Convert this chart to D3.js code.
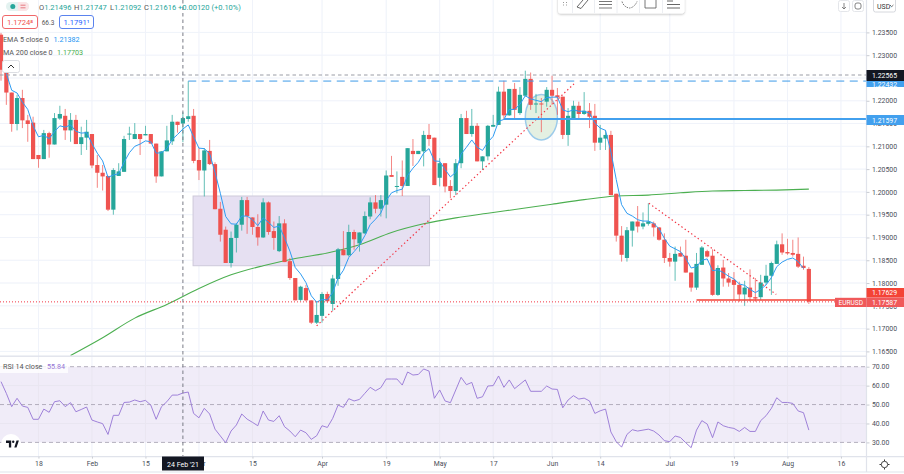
<!DOCTYPE html>
<html lang="en">
<head>
<meta charset="UTF-8">
<title>EURUSD</title>
<style>
  html, body { margin: 0; padding: 0; background: #fff; }
  svg { display: block; }
  text { font-family: Roboto, "Open Sans", sans-serif; }
</style>
</head>
<body>
<svg id="chart"></svg>
<script src="https://cdn.jsdelivr.net/npm/d3@7"></script>
<script>
// daily EURUSD bars. index 0 = 7 Jan 2021, 151 = 6 Aug 2021
var opens = [
  1.2345,1.2264,1.2218,1.2149,1.2206,1.2157,1.2152,1.2081,1.2072,1.2129,
  1.2104,1.2161,1.2167,1.2135,1.2158,1.2105,1.2119,1.2127,1.2059,1.2042,
  1.2035,1.1961,1.2035,1.2044,1.2126,1.2116,1.2127,1.2124,1.2127,1.2106,
  1.2034,1.2089,1.2111,1.2154,1.2150,1.2160,1.2167,1.2070,1.2047,1.2090,
  1.2061,1.1963,1.1917,1.1844,1.1899,1.1928,1.1982,1.1944,1.1923,1.1900,
  1.1977,1.1914,1.1870,1.1931,1.1848,1.1811,1.1763,1.1789,1.1762,1.1713,
  1.1728,1.1776,1.1754,1.1809,1.1873,1.1861,1.1912,1.1887,1.1909,1.1946,
  1.1977,1.1963,1.1972,1.2037,1.2011,1.2033,1.2013,1.2090,1.2083,1.2089,
  1.2125,1.2119,1.2031,1.2063,1.2013,1.2002,1.2063,1.2162,1.2127,1.2145,
  1.2067,1.2078,1.2143,1.2147,1.2220,1.2168,1.2226,1.2173,1.2211,1.2248,
  1.2193,1.2194,1.2198,1.2224,1.2212,1.2209,1.2125,1.2160,1.2189,1.2171,
  1.2178,1.2167,1.2108,1.2117,1.2125,1.1996,1.1904,1.1855,1.1915,1.1935,
  1.1924,1.1930,1.1931,1.1922,1.1895,1.1855,1.1847,1.1866,1.1860,1.1823,
  1.1790,1.1840,1.1870,1.1860,1.1774,1.1834,1.1810,1.1807,1.1796,1.1775,
  1.1790,1.1769,1.1769,1.1801,1.1816,1.1842,1.1885,1.1868,1.1866,1.1864,
  1.1838,1.1831
]
var highs = [
  1.2349,1.2279,1.2218,1.2213,1.2224,1.2169,1.2165,1.2081,1.2136,1.2132,
  1.2173,1.2189,1.2182,1.2173,1.2169,1.2143,1.2158,1.2127,1.2081,1.2059,
  1.2035,1.2052,1.2063,1.2123,1.2143,1.2151,1.2127,1.2145,1.2127,1.2106,
  1.2089,1.2145,1.2169,1.2154,1.2175,1.2243,1.2182,1.2096,1.2096,1.2114,
  1.2065,1.1978,1.1924,1.1913,1.1932,1.1989,1.1989,1.1944,1.1951,1.1986,
  1.1979,1.1935,1.1947,1.1940,1.1855,1.1811,1.1794,1.1796,1.1762,1.1760,
  1.1780,1.1781,1.1818,1.1877,1.1914,1.1928,1.1917,1.1911,1.1957,1.1988,
  1.1993,1.1993,1.2047,1.2079,1.2045,1.2069,1.2096,1.2116,1.2090,1.2134,
  1.2149,1.2119,1.2074,1.2063,1.2026,1.2072,1.2171,1.2178,1.2182,1.2151,
  1.2078,1.2147,1.2169,1.2231,1.2244,1.2226,1.2239,1.2230,1.2266,1.2262,
  1.2215,1.2206,1.2230,1.2255,1.2228,1.2209,1.2184,1.2200,1.2198,1.2219,
  1.2195,1.2193,1.2147,1.2136,1.2134,1.1996,1.1925,1.1923,1.1935,1.1969,
  1.1955,1.1975,1.1935,1.1923,1.1909,1.1866,1.1880,1.1880,1.1895,1.1823,
  1.1866,1.1881,1.1873,1.1874,1.1839,1.1851,1.1822,1.1824,1.1803,1.1805,
  1.1830,1.1811,1.1818,1.1840,1.1847,1.1893,1.1909,1.1897,1.1895,1.1900,
  1.1858,1.1835
]
var lows = [
  1.2244,1.2191,1.2132,1.2135,1.2140,1.2110,1.2072,1.2053,1.2072,1.2075,
  1.2104,1.2158,1.2114,1.2110,1.2105,1.2081,1.2092,1.2052,1.2009,1.2003,
  1.1958,1.1950,1.2035,1.2044,1.2114,1.2116,1.2081,1.2124,1.2106,1.2020,
  1.2034,1.2089,1.2103,1.2130,1.2109,1.2154,1.2063,1.2026,1.1990,1.2059,
  1.1962,1.1891,1.1844,1.1834,1.1867,1.1915,1.1908,1.1906,1.1882,1.1899,
  1.1906,1.1873,1.1868,1.1846,1.1807,1.1762,1.1760,1.1760,1.1710,1.1710,
  1.1713,1.1756,1.1739,1.1794,1.1861,1.1858,1.1873,1.1869,1.1908,1.1940,
  1.1953,1.1946,1.1942,1.2033,1.1997,1.1991,1.2013,1.2057,1.2083,1.2056,
  1.2101,1.2015,1.2012,1.1999,1.1986,1.1993,1.2052,1.2127,1.2121,1.2067,
  1.2048,1.2069,1.2143,1.2147,1.2160,1.2167,1.2160,1.2169,1.2209,1.2180,
  1.2173,1.2131,1.2187,1.2191,1.2169,1.2116,1.2101,1.2160,1.2162,1.2169,
  1.2140,1.2090,1.2092,1.2092,1.1993,1.1891,1.1847,1.1847,1.1880,1.1911,
  1.1918,1.1926,1.1902,1.1893,1.1844,1.1836,1.1805,1.1858,1.1823,1.1781,
  1.1785,1.1840,1.1856,1.1772,1.1772,1.1792,1.1792,1.1763,1.1759,1.1750,
  1.1759,1.1759,1.1763,1.1796,1.1774,1.1842,1.1862,1.1862,1.1858,1.1833,
  1.1829,1.1754
]
var closes = [
  1.2268,1.2218,1.2149,1.2206,1.2157,1.2149,1.2072,1.2072,1.2129,1.2104,
  1.2162,1.2171,1.2135,1.2158,1.2105,1.2120,1.2132,1.2058,1.2042,1.2034,
  1.1961,1.2048,1.2045,1.2116,1.2128,1.2127,1.2116,1.2127,1.2106,1.2034,
  1.2089,1.2113,1.2154,1.2147,1.2162,1.2166,1.2068,1.2047,1.2091,1.2061,
  1.1962,1.1906,1.1844,1.1899,1.1928,1.1982,1.1947,1.1923,1.1900,1.1977,
  1.1912,1.1899,1.1931,1.1846,1.1811,1.1762,1.1792,1.1762,1.1713,1.1730,
  1.1776,1.1760,1.1810,1.1874,1.1861,1.1912,1.1896,1.1911,1.1947,1.1977,
  1.1963,1.1982,1.2036,1.2033,1.2013,1.2013,1.2096,1.2083,1.2090,1.2125,
  1.2116,1.2015,1.2063,1.2012,1.2002,1.2063,1.2162,1.2127,1.2145,1.2067,
  1.2078,1.2145,1.2147,1.2220,1.2168,1.2226,1.2180,1.2213,1.2248,1.2191,
  1.2194,1.2193,1.2224,1.2211,1.2208,1.2125,1.2167,1.2189,1.2171,1.2178,
  1.2165,1.2108,1.2119,1.2125,1.1993,1.1904,1.1862,1.1916,1.1935,1.1924,
  1.1931,1.1935,1.1922,1.1895,1.1855,1.1847,1.1864,1.1858,1.1823,1.1790,
  1.1842,1.1878,1.1858,1.1774,1.1833,1.1810,1.1801,1.1796,1.1775,1.1790,
  1.1769,1.1766,1.1801,1.1816,1.1844,1.1885,1.1867,1.1865,1.1862,1.1836,
  1.1833,1.1759
]
// EMA 5 line, starts at bar 1, last reading at bar 150
var emaValues = [
  1.2260,1.2223,1.2217,1.2197,1.2181,1.2145,1.2121,1.2124,1.2117,1.2132,
  1.2145,1.2142,1.2147,1.2133,1.2129,1.2130,1.2106,1.2085,1.2068,1.2032,
  1.2037,1.2040,1.2065,1.2086,1.2100,1.2105,1.2112,1.2110,1.2085,1.2086,
  1.2095,1.2115,1.2126,1.2138,1.2147,1.2121,1.2096,1.2095,1.2084,1.2043,
  1.1997,1.1946,1.1930,1.1929,1.1947,1.1947,1.1939,1.1926,1.1943,1.1933,
  1.1922,1.1925,1.1899,1.1870,1.1834,1.1820,1.1801,1.1772,1.1758,1.1764,
  1.1763,1.1779,1.1811,1.1828,1.1856,1.1869,1.1883,1.1904,1.1928,1.1940,
  1.1954,1.1981,1.1998,1.2003,1.2006,1.2036,1.2052,1.2065,1.2085,1.2095,
  1.2068,1.2067,1.2049,1.2033,1.2043,1.2083,1.2098,1.2114,1.2098,1.2091,
  1.2109,1.2122,1.2155,1.2159,1.2181,1.2181,1.2192,1.2211,1.2204,1.2201,
  1.2198,1.2207,1.2208,1.2208,1.2180,1.2176,1.2180,1.2177,1.2177,1.2173,
  1.2151,1.2140,1.2135,1.2088,1.2027,1.1972,1.1953,1.1947,1.1939,1.1936,
  1.1936,1.1931,1.1919,1.1898,1.1881,1.1875,1.1869,1.1854,1.1833,1.1836,
  1.1850,1.1853,1.1827,1.1829,1.1823,1.1815,1.1809,1.1798,1.1795,1.1786,
  1.1779,1.1786,1.1796,1.1812,1.1836,1.1846,1.1852,1.1855,1.1847,1.1832
]
// MA 200, read every sixth bar
var maBars = [13,19,25,31,37,43,49,55,61,67,73,79,85,91,97,103,109,115,121,127,133,139,145,151]
var maValues = [
  1.1641,1.1680,1.1723,1.1753,1.1788,1.1818,1.1838,1.1854,1.1866,1.1884,1.1911,1.1930,
  1.1943,1.1953,1.1963,1.1973,1.1983,1.1991,1.1993,1.1998,1.2002,1.2003,1.2004,1.2006
]
var rsiValues = [
  62.1,55.9,48.9,53.3,49.2,48.5,42.2,42.2,47.6,45.9,
  51.5,52.0,48.9,51.0,46.2,47.4,48.7,41.8,40.8,39.9,
  34.2,44.3,44.3,51.1,51.3,52.4,51.5,52.2,49.7,42.2,
  48.9,51.5,55.0,55.0,56.1,56.6,45.3,43.0,48.0,45.0,
  37.0,33.4,29.8,36.0,39.2,45.0,42.3,40.6,38.8,46.6,
  41.8,41.1,44.1,38.3,36.0,33.0,36.5,35.1,31.6,33.5,
  38.8,37.9,42.7,49.7,48.5,53.1,51.9,52.7,55.9,59.1,
  57.3,58.9,63.5,63.5,63.5,60.3,67.2,65.6,65.9,68.8,
  67.7,53.3,57.7,51.9,51.0,57.7,64.4,60.5,61.7,53.3,
  54.1,59.8,60.0,65.1,59.1,63.0,58.4,60.7,63.0,57.0,
  57.0,57.0,59.8,58.2,58.0,48.3,52.4,54.7,52.9,53.4,
  51.9,45.3,46.7,47.6,35.5,30.4,27.5,34.2,36.7,36.0,
  36.5,37.0,36.0,33.9,30.9,30.4,33.4,32.6,29.8,27.2,
  36.5,41.5,39.7,32.5,40.8,38.8,37.9,37.4,35.8,37.9,
  35.8,35.8,41.5,44.1,48.0,53.6,51.1,51.1,50.6,46.6,
  45.7,36.5
]
var priceTicks = [1.165,1.17,1.175,1.18,1.185,1.19,1.195,1.2,1.205,1.21,1.215,1.22,1.225,1.23,1.235]
var rsiTicks = [30,40,50,60,70]
var timeBars = [7,17,27,37,47,60,72,82,92,103,112,125,137,147,157]
var timeLabels = ['18','Feb','15','Mar','15','Apr','19','May','17','Jun','14','Jul','19','Aug','16']
var crossBar = 34
var crossPrice = 1.22565
var lastPrice = 1.17587
var bidPrice = 1.17629
var blueDashed = 1.22432
var blueSolid = 1.21597

var width = 904
var height = 474
var axisX = 866.5
var svg = d3.select('#chart').attr('width', width).attr('height', height)
var candles = d3.range(opens.length).map(i => ({i: i, o: opens[i], h: highs[i], l: lows[i], c: closes[i]}))

var x = d3.scaleLinear().domain([0, 151]).range([1, 808.85])
var y = d3.scaleLinear().domain([1.165, 1.235]).range([351.4, 32.4])
var yRsi = d3.scaleLinear().domain([30, 70]).range([442.4, 366.7])

var gridColor = '#f0f3fa'
var borderColor = '#e0e3eb'
var red = '#ef5350'
var green = '#26a69a'
var blue = '#2196f3'
var purple = '#9575d5'
var fmtPrice = d3.format('.5f')

// grid
var grid = svg.append('g')
grid.selectAll('.vg').data(timeBars).enter().append('line')
  .attr('x1', d => x(d)).attr('x2', d => x(d)).attr('y1', 0).attr('y2', 456.5)
  .attr('stroke', gridColor)
grid.selectAll('.hg').data(priceTicks).enter().append('line')
  .attr('x1', 0).attr('x2', axisX).attr('y1', d => y(d)).attr('y2', d => y(d))
  .attr('stroke', gridColor)

// drawings behind the candles
svg.append('rect')
  .attr('x', x(35.9)).attr('y', y(1.1991))
  .attr('width', x(80.1) - x(35.9)).attr('height', y(1.1838) - y(1.1991))
  .attr('fill', '#e6e0f2').attr('stroke', '#cdc9da').attr('stroke-width', 1)
grid.clone(true).attr('opacity', 0.35)

svg.append('ellipse')
  .attr('cx', x(101)).attr('cy', y(1.2164))
  .attr('rx', x(104) - x(101)).attr('ry', y(1.2164) - y(1.2214))
  .attr('fill', '#e4f0e2').attr('stroke', '#9ccbea').attr('stroke-width', 1.5)

// ma 200
var maLine = d3.line().x((d, i) => x(maBars[i])).y(d => y(d)).curve(d3.curveMonotoneX)
svg.append('path').attr('d', maLine(maValues))
  .attr('fill', 'none').attr('stroke', '#4caf50').attr('stroke-width', 1.1)

// candles
var bars = svg.append('g')
bars.selectAll('.wick').data(candles).enter().append('line')
  .attr('x1', d => x(d.i)).attr('x2', d => x(d.i))
  .attr('y1', d => y(d.h)).attr('y2', d => y(d.l))
  .attr('stroke', d => d.c >= d.o ? green : red).attr('stroke-width', 0.9).attr('opacity', 0.8)
bars.selectAll('.body').data(candles).enter().append('rect')
  .attr('x', d => x(d.i) - 2.1).attr('width', 4.2)
  .attr('y', d => y(Math.max(d.o, d.c)))
  .attr('height', d => Math.max(1, Math.abs(y(d.o) - y(d.c))))
  .attr('fill', d => d.c >= d.o ? green : red)

// ema 5
var emaLine = d3.line().x((d, i) => x(i + 1)).y(d => y(d))
svg.append('path').attr('d', emaLine(emaValues))
  .attr('fill', 'none').attr('stroke', '#2f9cf2').attr('stroke-width', 1)

// trend lines
var trends = [[59, 1.1706, 107.1, 1.2237], [121.1, 1.1975, 144.9, 1.1775]]
svg.selectAll('.trend').data(trends).enter().append('line')
  .attr('x1', d => x(d[0])).attr('y1', d => y(d[1]))
  .attr('x2', d => x(d[2])).attr('y2', d => y(d[3]))
  .attr('stroke', '#f23645').attr('stroke-width', 1.2).attr('stroke-dasharray', '1.4 2.6')

// levels
svg.append('line').attr('x1', 0).attr('x2', axisX).attr('y1', y(lastPrice)).attr('y2', y(lastPrice))
  .attr('stroke', '#f23645').attr('stroke-width', 1).attr('stroke-dasharray', '1 2')
svg.append('line').attr('x1', x(130)).attr('x2', axisX).attr('y1', y(bidPrice)).attr('y2', y(bidPrice))
  .attr('stroke', '#f44336').attr('stroke-width', 1.6)
svg.append('line').attr('x1', x(94)).attr('x2', axisX).attr('y1', y(blueSolid)).attr('y2', y(blueSolid))
  .attr('stroke', '#42a0ee').attr('stroke-width', 2)
svg.append('line').attr('x1', x(35)).attr('x2', axisX).attr('y1', y(blueDashed)).attr('y2', y(blueDashed))
  .attr('stroke', '#3d9be9').attr('stroke-width', 1).attr('stroke-dasharray', '8 5.5')

// rsi pane
svg.append('rect').attr('x', 0).attr('width', axisX)
  .attr('y', yRsi(70)).attr('height', yRsi(30) - yRsi(70))
  .attr('fill', '#f0ecf8')
svg.selectAll('.rg').data([40, 60]).enter().append('line')
  .attr('x1', 0).attr('x2', axisX).attr('y1', d => yRsi(d)).attr('y2', d => yRsi(d))
  .attr('stroke', '#e9e6f1')
svg.selectAll('.rv').data(timeBars).enter().append('line')
  .attr('x1', d => x(d)).attr('x2', d => x(d)).attr('y1', yRsi(70)).attr('y2', yRsi(30))
  .attr('stroke', '#e9e6f1')
svg.selectAll('.rb').data([30, 50, 70]).enter().append('line')
  .attr('x1', 0).attr('x2', axisX).attr('y1', d => yRsi(d)).attr('y2', d => yRsi(d))
  .attr('stroke', '#b3afbd').attr('stroke-dasharray', '4 3')
var rsiLine = d3.line().x((d, i) => x(i)).y(d => yRsi(d))
svg.append('path').attr('d', rsiLine(rsiValues))
  .attr('fill', 'none').attr('stroke', purple).attr('stroke-width', 0.9)

// crosshair
svg.append('line').attr('x1', x(crossBar)).attr('x2', x(crossBar)).attr('y1', 0).attr('y2', 457)
  .attr('stroke', '#787b86').attr('stroke-dasharray', '3.5 3')
svg.append('line').attr('x1', 0).attr('x2', axisX).attr('y1', y(crossPrice)).attr('y2', y(crossPrice))
  .attr('stroke', '#9a9da6').attr('stroke-dasharray', '3.5 3')

// pane borders and axes
svg.append('rect').attr('x', axisX).attr('y', 0).attr('width', width - axisX).attr('height', 472).attr('fill', '#fff')
svg.append('rect').attr('x', 0).attr('y', 457).attr('width', width).attr('height', 15).attr('fill', '#fff')
svg.append('rect').attr('x', 0).attr('y', 355.5).attr('width', axisX).attr('height', 1.4).attr('fill', borderColor)
svg.append('line').attr('x1', 0).attr('x2', width).attr('y1', 456.6).attr('y2', 456.6).attr('stroke', borderColor).attr('stroke-width', 1.2)
svg.append('line').attr('x1', 0).attr('x2', width).attr('y1', 472).attr('y2', 472).attr('stroke', borderColor).attr('stroke-width', 1.2)
svg.append('line').attr('x1', axisX).attr('x2', axisX).attr('y1', 0).attr('y2', 472).attr('stroke', borderColor).attr('stroke-width', 1.2)

// 1.22500 sits fully under the tags, same as in the original
var priceAxis = d3.axisRight(y).tickValues(priceTicks)
  .tickFormat(d => d === 1.225 ? '' : fmtPrice(d)).tickSize(3).tickPadding(2.5)
var gPrice = svg.append('g').attr('transform', `translate(${axisX},0)`).call(priceAxis)
var rsiAxis = d3.axisRight(yRsi).tickValues(rsiTicks).tickFormat(d3.format('.2f')).tickSize(3).tickPadding(2.5)
var gRsi = svg.append('g').attr('transform', `translate(${axisX},0)`).call(rsiAxis)
var timeAxis = d3.axisBottom(x).tickValues(timeBars).tickFormat((d, i) => timeLabels[i]).tickSize(2).tickPadding(3)
var gTime = svg.append('g').attr('transform', 'translate(0,456.6)').call(timeAxis)
;[gPrice, gRsi, gTime].forEach(g => {
  g.select('.domain').remove()
  g.selectAll('line').attr('stroke', '#c9ccd3')
  g.selectAll('text').attr('font-size', 6.9).attr('fill', '#4a4e59')
    .style('font-family', 'Roboto, sans-serif')
})

// price tags
function priceTag(label, top, h, fill) {
  svg.append('rect').attr('x', axisX).attr('y', top).attr('width', width - axisX).attr('height', h).attr('fill', fill)
  svg.append('text').attr('x', 872).attr('y', top + h / 2 + 2.5).attr('font-size', 6.9).attr('fill', '#fff').text(label)
}
priceTag(fmtPrice(blueDashed), 81, 6, '#42a0ee')
priceTag(fmtPrice(crossPrice), 70, 11, '#131722')
priceTag(fmtPrice(blueSolid), 115, 10, '#42a0ee')
priceTag(fmtPrice(bidPrice), 288, 9.5, '#f44336')
priceTag(fmtPrice(lastPrice), 297.5, 9.5, '#f0595a')
svg.append('rect').attr('x', 835).attr('y', 297.8).attr('width', 31.5).attr('height', 9.2).attr('fill', '#f0595a')
svg.append('text').attr('x', 850.7).attr('y', 305).attr('text-anchor', 'middle')
  .attr('font-size', 6.6).attr('fill', '#fff').text('EURUSD')

// date tag on the crosshair
svg.append('rect').attr('x', 162).attr('y', 456.5).attr('width', 42).attr('height', 14).attr('fill', '#131722')
svg.append('text').attr('x', 183).attr('y', 466.5).attr('text-anchor', 'middle')
  .attr('font-size', 7).attr('fill', '#fff').text("24 Feb '21")

// legend, top left
svg.append('rect').attr('x', 6).attr('y', 2).attr('width', 23).attr('height', 9).attr('rx', 4.5).attr('fill', '#e3f2f0')
svg.append('path').attr('d', 'M18 2h6.5a4.5 4.5 0 0 1 0 9H18z').attr('fill', '#fbe4e6')
svg.append('circle').attr('cx', 12.8).attr('cy', 6.5).attr('r', 2.5).attr('fill', green)
svg.append('path').attr('d', 'M20.5 5.2h5M20.5 7.8h5').attr('stroke', '#e57b83').attr('stroke-width', 1)

var ohlcLabels = ['O', 'H', 'L', 'C', '']
var ohlcValues = ['1.21496', '1.21747', '1.21092', '1.21616', '+0.00120 (+0.10%)']
var ohlcLefts = [39, 74, 110, 144, 178]
ohlcValues.forEach((d, i) => {
  var t = svg.append('text').attr('x', ohlcLefts[i]).attr('y', 10).attr('font-size', 7.5)
  t.append('tspan').attr('fill', '#555').text(ohlcLabels[i])
  t.append('tspan').attr('fill', green).text(d)
})

svg.append('rect').attr('x', 2.5).attr('y', 15.5).attr('width', 35).attr('height', 13).attr('rx', 2.5)
  .attr('fill', '#fff').attr('stroke', '#f0686a')
svg.append('text').attr('x', 20).attr('y', 25).attr('text-anchor', 'middle').attr('font-size', 7.6).attr('fill', red).text('1.1724⁸')
svg.append('text').attr('x', 48).attr('y', 25).attr('text-anchor', 'middle').attr('font-size', 6.5).attr('fill', '#555').text('66.3')
svg.append('rect').attr('x', 59.5).attr('y', 15.5).attr('width', 34).attr('height', 13).attr('rx', 2.5)
  .attr('fill', '#fff').attr('stroke', '#5b83ee')
svg.append('text').attr('x', 76.5).attr('y', 25).attr('text-anchor', 'middle').attr('font-size', 7.6).attr('fill', '#2962ff').text('1.1791¹')

var studies = svg.append('g').attr('font-size', 7.2)
studies.append('text').attr('x', 3).attr('y', 41.5).attr('fill', '#555').text('EMA 5 close 0')
studies.append('text').attr('x', 53.5).attr('y', 41.5).attr('fill', blue).text('1.21382')
studies.append('text').attr('x', 3).attr('y', 55).attr('fill', '#555').text('MA 200 close 0')
studies.append('text').attr('x', 57).attr('y', 55).attr('fill', '#4caf50').text('1.17703')
svg.append('rect').attr('x', 2.5).attr('y', 60.5).attr('width', 17).attr('height', 12).attr('rx', 2)
  .attr('fill', '#fff').attr('stroke', '#dcdee3')
svg.append('path').attr('d', 'M8 68l3-3 3 3').attr('fill', 'none').attr('stroke', '#333').attr('stroke-width', 1)

// rsi legend
svg.append('rect').attr('x', 0).attr('y', 361.5).attr('width', 68).attr('height', 11.5).attr('fill', '#fff').attr('opacity', 0.8)
svg.append('text').attr('x', 3).attr('y', 369.3).attr('font-size', 7.2).attr('fill', '#555').text('RSI 14 close')
svg.append('text').attr('x', 47).attr('y', 369.3).attr('font-size', 7.2).attr('fill', purple).text('55.84')

// logo
svg.append('circle').attr('cx', 11).attr('cy', 444).attr('r', 10).attr('fill', '#fff')
svg.append('path').attr('d', 'M6 440.5h5.2v7h-2.3v-4.6h-2.9z M14.3 447.5l2.2-7h2.4l-2.4 7z').attr('fill', '#131722')
svg.append('circle').attr('cx', 13.2).attr('cy', 441.7).attr('r', 1.2).attr('fill', '#131722')

// settings gear
svg.append('circle').attr('cx', 884.5).attr('cy', 464.5).attr('r', 3.2).attr('fill', 'none').attr('stroke', '#333').attr('stroke-width', 0.9)
svg.append('path').attr('d', 'M884.5 459.5v1.6M884.5 467.9v1.6M879.5 464.5h1.6M887.9 464.5h1.6').attr('stroke', '#333').attr('stroke-width', 1)

// drawing toolbar
var defs = svg.append('defs')
var shadow = defs.append('filter').attr('id', 'sh').attr('x', '-10%').attr('y', '-30%').attr('width', '120%').attr('height', '180%')
shadow.append('feDropShadow').attr('dx', 0).attr('dy', 1).attr('stdDeviation', 1.2).attr('flood-color', '#000').attr('flood-opacity', 0.25)
svg.append('rect').attr('x', 558).attr('y', -6).attr('width', 126.5).attr('height', 19.5).attr('rx', 3)
  .attr('fill', '#fff').attr('filter', 'url(#sh)')
svg.append('path').attr('d', 'M572.5 0v13M594.5 0v13M617 0v13M639.5 0v13M662.5 0v13')
  .attr('stroke', '#eceef2')
svg.append('path').attr('d', 'M563 2.5h1M566 2.5h1M563 5h1M566 5h1')
  .attr('stroke', '#999')
svg.append('path').attr('d', 'M577 7l6-7M581 8.5l7-8.5M577 7l4 1.5')
  .attr('fill', 'none').attr('stroke', '#444').attr('stroke-width', 0.8)
svg.append('path').attr('d', 'M599 1.5h13M599 4.5h13M599 8h13').attr('stroke', '#555').attr('stroke-width', 0.8)
svg.append('path').attr('d', 'M622 1.5c1 4 5 6.5 7.5 6.5s6-2.5 7.5-6.5').attr('fill', 'none').attr('stroke', '#555').attr('stroke-width', 0.8).attr('stroke-dasharray', '1.5 1')
svg.append('path').attr('d', 'M645 0v8h11v-8').attr('fill', 'none').attr('stroke', '#555').attr('stroke-width', 0.8)
svg.append('path').attr('d', 'M667 1h6M667 4.5h13M667 8h13').attr('stroke', '#555').attr('stroke-width', 0.9)

// top right buttons
svg.append('rect').attr('x', 838.5).attr('y', 0.5).attr('width', 11).attr('height', 11).attr('rx', 2).attr('fill', '#fff').attr('stroke', '#e4e6ea')
svg.append('path').attr('d', 'M844 3v6M842 7l2 2 2-2').attr('fill', 'none').attr('stroke', '#666').attr('stroke-width', 0.8)
svg.append('rect').attr('x', 852.5).attr('y', 0.5).attr('width', 11).attr('height', 11).attr('rx', 2).attr('fill', '#fff').attr('stroke', '#e4e6ea')
svg.append('rect').attr('x', 855).attr('y', 3).attr('width', 6).attr('height', 6).attr('rx', 2).attr('fill', 'none').attr('stroke', '#666').attr('stroke-width', 0.8)
svg.append('rect').attr('x', 873.5).attr('y', -2).attr('width', 22).attr('height', 14).attr('rx', 2).attr('fill', '#fff').attr('stroke', '#d6d8dd')
svg.append('text').attr('x', 877).attr('y', 9).attr('font-size', 7).attr('fill', '#333').text('USD')
svg.append('path').attr('d', 'M890 5l1.7 1.7 1.7-1.7').attr('fill', 'none').attr('stroke', '#333').attr('stroke-width', 0.7)
</script>
</body>
</html>
